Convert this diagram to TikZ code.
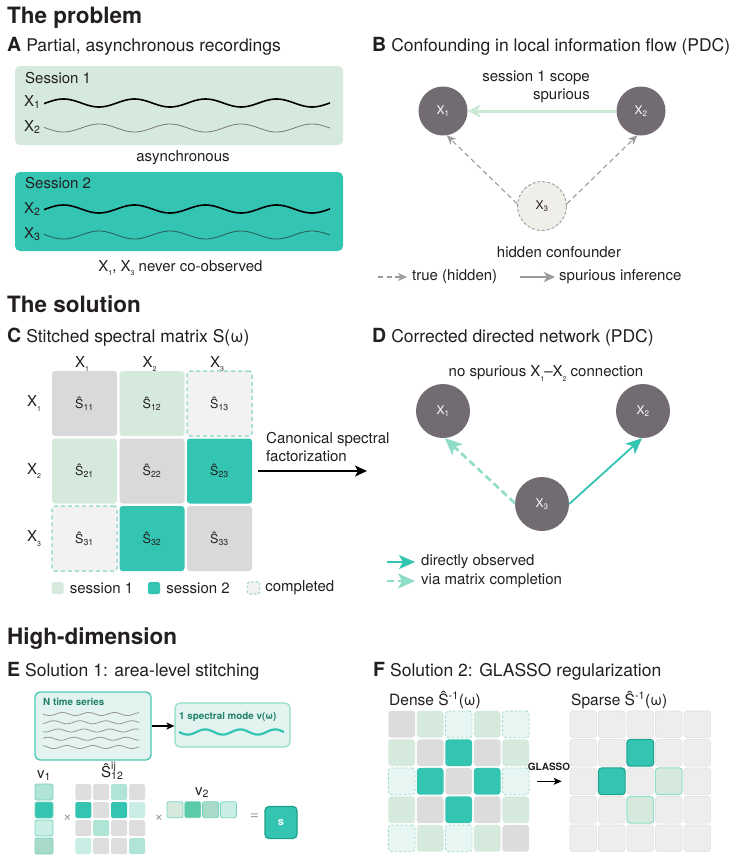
\documentclass[tikz,border=0pt]{standalone}
\usepackage{fontspec}
\setmainfont{TeX Gyre Heros}
\usepackage{xcolor}
\usepackage{tikz}
\usetikzlibrary{arrows.meta,positioning,calc}
\definecolor{ink}{RGB}{35,31,32}
\definecolor{sessone}{RGB}{213,234,220}
\definecolor{spurgreen}{RGB}{202,233,212}
\definecolor{teal2}{RGB}{52,196,178}
\definecolor{tealdark}{RGB}{28,160,138}
\definecolor{tealtext}{RGB}{30,128,104}
\definecolor{tealpale}{RGB}{227,244,240}
\definecolor{tealline}{RGB}{78,201,181}
\definecolor{tealedge}{RGB}{120,212,192}
\definecolor{tealsoft}{RGB}{143,220,200}
\definecolor{dashteal}{RGB}{159,220,207}
\definecolor{nodegray}{RGB}{115,107,114}
\definecolor{cellgray}{RGB}{217,217,220}
\definecolor{compfill}{RGB}{242,242,242}
\definecolor{beige}{RGB}{240,238,232}
\definecolor{arrowgray}{RGB}{155,155,155}
\definecolor{wavegray}{RGB}{120,120,120}
\definecolor{wavedark}{RGB}{40,92,86}
\definecolor{tsgray}{RGB}{150,150,150}
\definecolor{egray}{RGB}{222,222,222}
\definecolor{tealA}{RGB}{175,228,214}
\definecolor{tealB}{RGB}{168,218,200}
\definecolor{tealC}{RGB}{200,238,229}
\definecolor{tealM}{RGB}{90,202,168}
\definecolor{densegray}{RGB}{220,220,220}
\definecolor{densepale}{RGB}{232,246,243}
\definecolor{sparsegray}{RGB}{237,237,237}
\definecolor{sparseedge}{RGB}{226,226,226}
\newcommand{\pletter}[1]{{\fontsize{19.5}{20}\selectfont\bfseries #1}\hspace{5pt}}
\newcommand{\lowsub}[1]{\raisebox{-0.6ex}{\fontsize{7}{7}\selectfont #1}}
\tikzset{
  every node/.style={text=ink},
  sectitle/.style={anchor=base west, inner sep=0, font=\fontsize{22.5}{26}\selectfont\bfseries},
  paneltitle/.style={anchor=base west, inner sep=0, font=\fontsize{17.5}{20}\selectfont},
  lbl/.style={inner sep=0, font=\fontsize{15}{18}\selectfont},
  etext/.style={inner sep=0, font=\fontsize{9.8}{11}\selectfont\bfseries, text=tealtext},
  opsym/.style={inner sep=0, font=\fontsize{15}{15}\selectfont, text=arrowgray},
  sessbox/.style={rounded corners=5pt, minimum width=328, minimum height=79, inner sep=0},
  wavebold/.style={line width=1.6pt, black},
  wavethin/.style={line width=0.8pt, wavegray},
  gnode/.style={circle, fill=nodegray, minimum size=49, inner sep=0, text=white,
    font=\fontsize{12}{12}\selectfont},
  hnode/.style={circle, fill=beige, draw=arrowgray, dash pattern=on 3pt off 2pt,
    line width=0.9pt, minimum size=49, inner sep=0, font=\fontsize{12}{12}\selectfont},
  dnode/.style={gnode, minimum size=54},
  spur/.style={-{Stealth[length=13pt,width=13pt,inset=4pt]}, line width=3pt, draw=spurgreen},
  hidflow/.style={-{Stealth[length=9pt,width=8pt,inset=2.5pt]}, line width=1.1pt,
    draw=arrowgray, dash pattern=on 5pt off 3.5pt},
  graylegend/.style={-{Stealth[length=11pt,width=10pt,inset=3pt]}, line width=2.4pt, draw=arrowgray},
  bigflow/.style={-{Stealth[length=12pt,width=11pt,inset=3pt]}, line width=1.4pt, black},
  smallflow/.style={-{Stealth[length=8pt,width=7pt,inset=2pt]}, line width=1.2pt, black},
  obsflow/.style={-{Stealth[length=16pt,width=14pt,inset=4pt]}, line width=1.8pt, draw=teal2},
  compflow/.style={-{Stealth[length=17pt,width=15pt,inset=4pt]}, line width=2.6pt,
    draw=tealsoft, dash pattern=on 7pt off 4pt},
  cbase/.style={rounded corners=3pt, minimum size=65, inner sep=0, font=\fontsize{12.5}{14}\selectfont},
  cdiag/.style={cbase, fill=cellgray},
  csone/.style={cbase, fill=sessone},
  cstwo/.style={cbase, fill=teal2},
  ccomp/.style={cbase, fill=compfill, draw=dashteal, line width=1.5pt, dash pattern=on 4pt off 3pt},
  legsq/.style={minimum size=12, inner sep=0, rounded corners=1.5pt},
  ebox/.style={rounded corners=5pt, fill=tealpale, draw=tealline, line width=1.4pt, inner sep=0},
  vcell/.style={minimum width=18, minimum height=16, inner sep=0, rounded corners=2pt,
    draw=tealedge, line width=0.8pt},
  hcell/.style={vcell, minimum width=16},
  mcell/.style={minimum size=16, inner sep=0, rounded corners=1.5pt},
  mgray/.style={mcell, fill=egray},
  mlight/.style={mcell, fill=tealA},
  mpale/.style={mcell, fill=tealC},
  mteal/.style={mcell, fill=teal2},
  sbox/.style={rounded corners=4pt, minimum size=32, fill=teal2, draw=tealdark, line width=1.2pt,
    text=white, font=\fontsize{11}{12}\selectfont\bfseries},
  fcell/.style={minimum size=26.7, inner sep=0, rounded corners=3pt},
  dgray/.style={fcell, fill=densegray},
  dgreen/.style={fcell, fill=sessone},
  dteal/.style={fcell, fill=teal2},
  dpale/.style={fcell, fill=densepale, draw=dashteal, line width=0.8pt, dash pattern=on 2.5pt off 2pt},
  spgray/.style={fcell, fill=sparsegray, draw=sparseedge, line width=0.6pt},
  spteal/.style={fcell, fill=teal2, draw=tealdark, line width=1pt},
  spgreen/.style={fcell, fill=sessone, draw=tealsoft, line width=1pt}
}

\begin{document}
\begin{tikzpicture}[x=1pt,y=-1pt]
\useasboundingbox[fill=white] (0,0) rectangle (739,860);

\node[sectitle] (tprob) at (7,23) {The problem};
\node[paneltitle] (hA) at (7,51) {\pletter{A}Partial, asynchronous recordings};

\node[sessbox, fill=sessone] (sessA) at (179,105.5) {};
\node[lbl, anchor=base west] (sessAt) at (25,83) {Session 1};
\node[lbl, anchor=base west] (ax1) at (24,106) {X\textsubscript{1}};
\node[lbl, anchor=base west] (ax2) at (24,131) {X\textsubscript{2}};
\draw[wavebold, domain=44:330, samples=120, smooth] plot (\x,{103+4*cos((\x-99)*5.0704)});
\draw[wavethin, domain=44:330, samples=120, smooth] plot (\x,{128-4*cos((\x-99)*5.0704)});
\node[lbl, anchor=base] (async) at (183,161) {asynchronous};

\node[sessbox, fill=teal2] (sessB) at (179,211.5) {};
\node[lbl, anchor=base west] (sessBt) at (25,188) {Session 2};
\node[lbl, anchor=base west] (bx2l) at (24,213) {X\textsubscript{2}};
\node[lbl, anchor=base west] (bx3l) at (24,238) {X\textsubscript{3}};
\draw[wavebold, domain=44:330, samples=120, smooth] plot (\x,{209+4*cos((\x-99)*5.0704)});
\draw[wavethin, draw=wavedark, domain=44:330, samples=120, smooth] plot (\x,{235-4*cos((\x-99)*5.0704)});
\node[lbl, anchor=base] (never) at (180.5,271) {X\lowsub{1}, X\lowsub{3} never co-observed};

\node[paneltitle] (hB) at (372,51) {\pletter{B}Confounding in local information flow (PDC)};
\node[gnode] (bx1) at (443,111) {X\textsubscript{1}};
\node[gnode] (bx2) at (641,111) {X\textsubscript{2}};
\node[hnode] (bx3) at (542,206) {X\textsubscript{3}};
\draw[spur] (bx2) -- (bx1);
\draw[hidflow] (bx3.175) -- (bx1.-81);
\draw[hidflow] (bx3.5) -- (bx2.-99);
\node[lbl, align=right, anchor=east] (bscope) at (590,87) {session 1 scope\\spurious};
\node[lbl, anchor=base] (bhid) at (559,257) {hidden confounder};
\coordinate (lgb1) at (378,277);
\coordinate (lgb2) at (407,277);
\coordinate (lgb3) at (520,277);
\coordinate (lgb4) at (555,277);
\draw[hidflow] (lgb1) -- (lgb2);
\node[lbl, right=5pt of lgb2] (lgbt1) {true (hidden)};
\draw[graylegend] (lgb3) -- (lgb4);
\node[lbl, right=4pt of lgb4] (lgbt2) {spurious inference};

\node[sectitle] (tsol) at (7,312) {The solution};
\node[paneltitle] (hC) at (7,342) {\pletter{C}Stitched spectral matrix S(ω)};
\foreach \j in {1,2,3}
  \node[lbl, anchor=base] (colx\j) at ({82+67.5*(\j-1)},367) {X\lowsub{\j}};
\foreach \i in {1,2,3}
  \node[lbl, anchor=base west] (rowx\i) at (27,{406.5+67.5*(\i-1)}) {X\lowsub{\i}};
\foreach \row [count=\i] in {{cdiag,csone,ccomp},{csone,cdiag,cstwo},{ccomp,cstwo,cdiag}}
  \foreach \k [count=\j] in \row
    \node[\k] (c\i\j) at ({84.5+67.5*(\j-1)},{403.5+67.5*(\i-1)}) {Ŝ\textsubscript{\i\j}};
\node[legsq, fill=sessone] (lgc1) at (57.5,588) {};
\node[lbl, right=6pt of lgc1] (lgct1) {session 1};
\node[legsq, fill=teal2] (lgc2) at (154,588) {};
\node[lbl, right=6pt of lgc2] (lgct2) {session 2};
\node[legsq, fill=compfill, draw=dashteal, line width=1.2pt, dash pattern=on 2.5pt off 2pt] (lgc3) at (253.5,588) {};
\node[lbl, right=5pt of lgc3] (lgct3) {completed};

\coordinate (facend) at (367,471);
\draw[bigflow] ([xshift=6pt]c23.east) -- (facend);
\node[lbl, align=left, anchor=north west] (fact) at (266,432) {Canonical spectral\\factorization};

\node[paneltitle] (hD) at (372,342) {\pletter{D}Corrected directed network (PDC)};
\node[lbl, anchor=base] (nospur) at (546,376.5) {no spurious X\lowsub{1}–X\lowsub{2} connection};
\node[dnode] (dx1) at (443,411) {X\textsubscript{1}};
\node[dnode] (dx2) at (643,411) {X\textsubscript{2}};
\node[dnode] (dx3) at (542,504) {X\textsubscript{3}};
\draw[compflow] (dx3.178) -- (dx1.-86);
\draw[obsflow] (dx3.0) -- (dx2.-92);
\coordinate (lgd1) at (387,562);
\coordinate (lgd2) at (415,562);
\coordinate (lgd3) at (387,581);
\coordinate (lgd4) at (415,581);
\draw[obsflow] (lgd1) -- (lgd2);
\node[lbl, right=6pt of lgd2] (lgdt1) {directly observed};
\draw[compflow, line width=2pt] (lgd3) -- (lgd4);
\node[lbl, right=6pt of lgd4] (lgdt2) {via matrix completion};

\node[sectitle] (thigh) at (7,644) {High-dimension};
\node[paneltitle] (hE) at (7,676) {\pletter{E}Solution 1: area-level stitching};
\node[ebox, minimum width=116, minimum height=68] (tsbox) at (93,726) {};
\node[etext, anchor=base west] (tstxt) at (43,705.7) {N time series};
\foreach \k/\ph in {0/0,1/120,2/60,3/200,4/300}
  \draw[line width=0.8pt, tsgray, domain=43:139, samples=60, smooth]
    plot (\x,{714+8.25*\k+1.5*sin((\x-43)*13.846+\ph)});
\node[ebox, line width=1.1pt, draw=tealsoft, minimum width=115, minimum height=44] (modebox) at (232.5,725) {};
\node[etext, anchor=base west] (modetxt) at (179,719) {1 spectral mode v(ω)};
\draw[line width=2.2pt, teal2, domain=179:284, samples=80, smooth]
  plot (\x,{732+2.6*sin((\x-179)*10.286)});
\draw[smallflow] (tsbox.east) -- (modebox.west |- tsbox.east);

\node[lbl, anchor=base] (vonel) at (44,778) {v\textsubscript{1}};
\foreach \c [count=\i] in {tealA,teal2,tealC,tealB}
  \node[vcell, fill=\c] (vone\i) at (44,{792+18*(\i-1)}) {};
\node[opsym] (times1) at (67.5,818) {×};
\node[lbl, anchor=base west] (shatl) at (101,777) {Ŝ\rlap{\textsuperscript{\raisebox{2pt}{ij}}}\textsubscript{12}};
\foreach \row [count=\i] in {{mgray,mgray,mlight,mgray},{mteal,mgray,mteal,mpale},{mgray,mlight,mgray,mgray},{mpale,mgray,mgray,mlight}}
  \foreach \k [count=\j] in \row
    \node[\k] (m\i\j) at ({83.3+17.9*(\j-1)},{792+18*(\i-1)}) {};
\node[opsym] (times2) at (159,818) {×};
\node[lbl, anchor=base west] (vtwol) at (195,795) {v\textsubscript{2}};
\foreach \c [count=\j] in {sessone,tealM,tealB,tealC}
  \node[hcell, fill=\c] (vtwo\j) at ({175+17.8*(\j-1)},809.7) {};
\node[opsym] (eqs) at (254.5,817) {=};
\node[sbox] (sres) at (281,822.5) {s};

\node[paneltitle] (hF) at (373,676) {\pletter{F}Solution 2: GLASSO regularization};
\node[lbl, anchor=base west, font=\fontsize{15.5}{18}\selectfont] (densel) at (389,705) {Dense Ŝ\textsuperscript{-1}(ω)};
\node[lbl, anchor=base west, font=\fontsize{15.5}{18}\selectfont] (sparsel) at (571,705) {Sparse Ŝ\textsuperscript{-1}(ω)};
\foreach \row [count=\i] in {{dgray,dgreen,dpale,dgreen,dpale},{dgreen,dgray,dteal,dgray,dgreen},{dpale,dteal,dgray,dteal,dpale},{dgreen,dgray,dteal,dgray,dgreen},{dpale,dgreen,dpale,dgreen,dgray}}
  \foreach \k [count=\j] in \row
    \node[\k] (d\i\j) at ({401.7+28.5*(\j-1)},{724.3+28.5*(\i-1)}) {};
\foreach \row [count=\i] in {{spgray,spgray,spgray,spgray,spgray},{spgray,spgray,spteal,spgray,spgray},{spgray,spteal,spgray,spgreen,spgray},{spgray,spgray,spgreen,spgray,spgray},{spgray,spgray,spgray,spgray,spgray}}
  \foreach \k [count=\j] in \row
    \node[\k] (sm\i\j) at ({583.3+28.5*(\j-1)},{724.3+28.5*(\i-1)}) {};
\node[inner sep=0, font=\fontsize{10}{11}\selectfont\bfseries, anchor=base] (glab) at (549,770.5) {GLASSO};
\draw[smallflow] ([xshift=8pt]d35.east) -- ([xshift=-8pt]sm31.west);
\end{tikzpicture}
\end{document}
